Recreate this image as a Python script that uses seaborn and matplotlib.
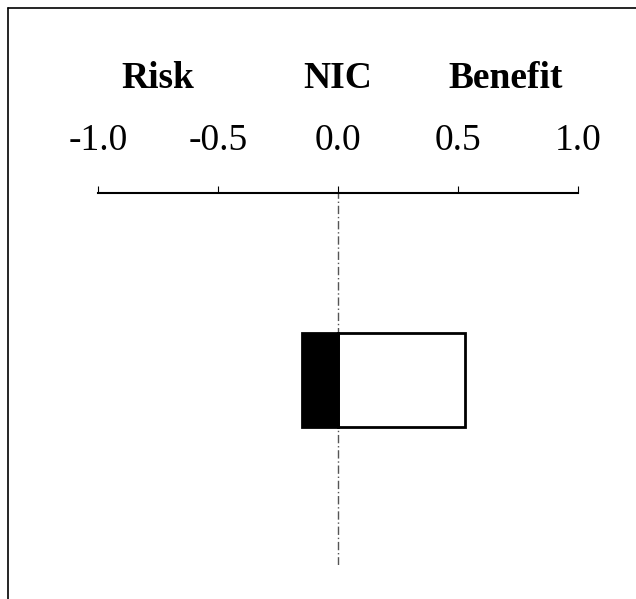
import matplotlib
matplotlib.use('Agg')
import matplotlib.pyplot as plt
import seaborn as sns
from matplotlib.lines import Line2D

# values
category = ['Effect']
risk = [-0.15]
benefit = [0.53]
tick_values = [-1.0, -0.5, 0.0, 0.5, 1.0]
tick_labels = ['-1.0', '-0.5', '0.0', '0.5', '1.0']
headers = ['Risk', 'NIC', 'Benefit']
header_x = [-0.75, 0.0, 0.70]

sns.set_style('white')
plt.rcParams['font.family'] = ['Liberation Serif', 'DejaVu Serif']
plt.rcParams['text.color'] = 'black'

fig = plt.figure(figsize=(6.36, 5.99), dpi=100)
ax = fig.add_axes([98 / 636, 1 - 565 / 599, 480 / 636, 372 / 599])

sns.barplot(x=benefit, y=category, color='white', edgecolor='black',
            linewidth=2, width=0.8, ax=ax, orient='h')
sns.barplot(x=risk, y=category, color='black', edgecolor='black',
            linewidth=2, width=0.8, ax=ax, orient='h')

ax.axvline(0, color='#555555', linestyle=(0, (6, 2, 1, 2)), linewidth=1, zorder=0)

ax.set_xlim(-1.0, 1.0)
ax.set_ylim(1.574, -1.591)
for side in ['left', 'right', 'bottom']:
    ax.spines[side].set_visible(False)
ax.spines['top'].set_linewidth(1.5)
ax.spines['top'].set_color('black')

ax.xaxis.tick_top()
ax.set_xticks(tick_values)
ax.set_xticklabels(tick_labels, fontsize=27)
ax.tick_params(axis='x', direction='out', length=5, width=0.8, pad=20,
               colors='black')
ax.set_yticks([])
ax.set_xlabel('')
ax.set_ylabel('')

for name, x in zip(headers, header_x):
    ax.text(x, (565 - 78) / 372, name, transform=ax.get_xaxis_transform(),
            ha='center', va='center', fontsize=27, fontweight='bold',
            color='black')

# scanned page border (left and top)
fig.add_artist(Line2D([7.5 / 636, 7.5 / 636], [0, 1 - 7.5 / 599],
                      transform=fig.transFigure, color='black', linewidth=1.2))
fig.add_artist(Line2D([7.5 / 636, 1], [1 - 7.5 / 599, 1 - 7.5 / 599],
                      transform=fig.transFigure, color='black', linewidth=1.2))

fig.savefig('out.png', dpi=100)
